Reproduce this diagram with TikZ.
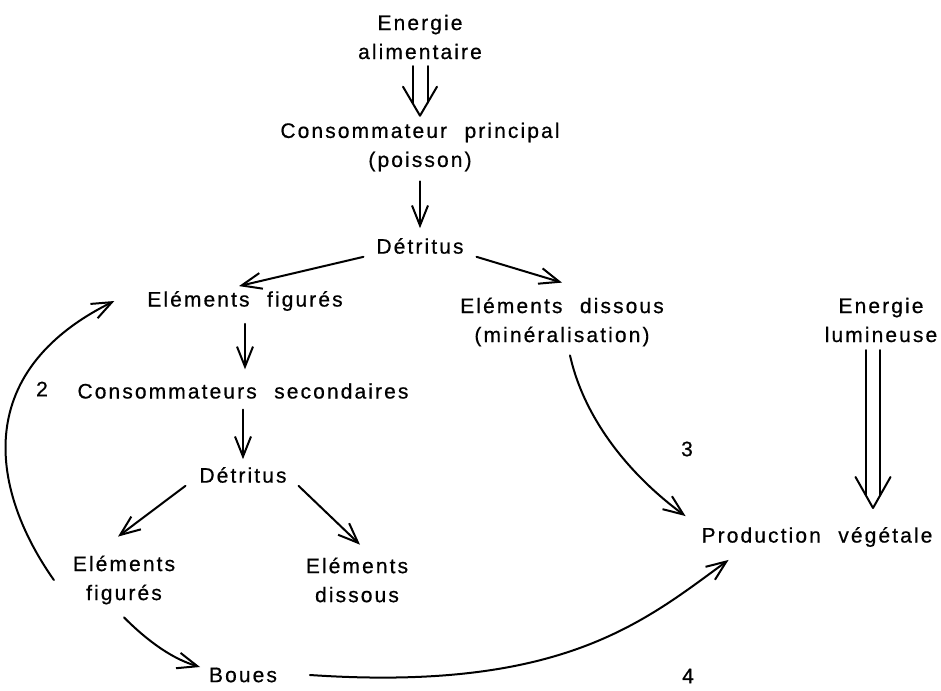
\documentclass[tikz,border=0pt]{standalone}
\usepackage{fontspec}
\setmainfont{Liberation Sans}[LetterSpace=10,WordSpace=2.2,FakeBold=0.6]
\usetikzlibrary{arrows.meta}
\begin{document}
\begin{tikzpicture}[x=1pt,y=-1pt,font=\fontsize{21}{29}\selectfont,line cap=round,line join=round,>={Straight Barb[length=20pt,width=16pt]},line width=2pt,
	txt/.style={align=center,inner sep=2pt}]
	\useasboundingbox (0,0) rectangle (941,690);
	% nodes
	\node[txt] (ealim) at (420,37) {Energie\\alimentaire};
	\node[txt] (cprinc) at (420,147) {Consommateur principal\\(poisson)};
	\node[txt] (det1) at (420,246) {Détritus};
	\node[txt] (efig1) at (245,301) {Eléments figurés};
	\node[txt] (ediss1) at (562,322) {Eléments dissous\\(minéralisation)};
	\node[txt] (elum) at (881,320) {Energie\\lumineuse};
	\node[txt] (csec) at (243,391) {Consommateurs secondaires};
	\node[txt] (det2) at (243,475) {Détritus};
	\node[txt] (efig2) at (124,580) {Eléments\\figurés};
	\node[txt] (ediss2) at (357,580) {Eléments\\dissous};
	\node[txt] (prod) at (817,537) {Production végétale};
	\node[txt] (boues) at (243,675) {Boues};
	\node (n2) at (42,389) {2};
	\node (n3) at (687,449) {3};
	\node (n4) at (688,676) {4};
	\coordinate (lumtip) at (873,508);
	% energie alimentaire
	\draw ([xshift=-7.5pt,yshift=-4pt]ealim.south) -- ([xshift=-7.5pt,yshift=17pt]cprinc.north);
	\draw ([xshift=7.5pt,yshift=-4pt]ealim.south) -- ([xshift=7.5pt,yshift=17pt]cprinc.north);
	\draw ([xshift=-17pt,yshift=33pt]cprinc.north) -- ([yshift=4pt]cprinc.north) -- ([xshift=17pt,yshift=33pt]cprinc.north);
	% energie lumineuse
	\draw ([xshift=-15pt,yshift=-5pt]elum.south) -- ([xshift=-7pt,yshift=13pt]lumtip);
	\draw ([xshift=-1pt,yshift=-5pt]elum.south) -- ([xshift=7pt,yshift=13pt]lumtip);
	\draw ([xshift=-17.5pt,yshift=31pt]lumtip) -- (lumtip) -- ([xshift=17.5pt,yshift=31pt]lumtip);
	% detritus
	\draw[->,shorten <=7pt,shorten >=7pt] (cprinc.south) -- (det1.north);
	\draw[->] ([xshift=-10pt]det1.south west) -- ([xshift=-6pt,yshift=2pt]efig1.north);
	\draw[->] ([xshift=10pt]det1.south east) -- ([yshift=12pt]ediss1.north);
	\draw[->,shorten <=10pt,shorten >=11pt] (efig1.south) -- (efig1.south |- csec.north);
	\draw[->,shorten <=8pt,shorten >=5pt] (csec.south) -- (csec.south |- det2.north);
	\draw[->] ([xshift=-11pt]det2.south west) -- ([xshift=-6pt,yshift=16pt]efig2.north);
	\draw[->] ([xshift=9pt]det2.south east) -- ([xshift=3pt,yshift=10pt]ediss2.north);
	% recyclage
	\draw[->] ([yshift=-10pt]efig2.south) .. controls +(25,25) and +(-27,-8) .. ([xshift=-6pt,yshift=8pt]boues.west);
	\draw[->] ([xshift=-16pt]efig2.west) .. controls +(-62,-88) and +(-145,72) .. ([xshift=-30pt]efig1.west);
	\draw[->] ([xshift=8pt,yshift=-6pt]ediss1.south) .. controls +(15,67) and +(-52,-38) .. ([xshift=-13pt,yshift=8pt]prod.north west);
	\draw[->] ([xshift=30pt]boues.east) .. controls +(252,17) and +(-85,62) .. ([xshift=30pt,yshift=-10pt]prod.south west);
\end{tikzpicture}
\end{document}
